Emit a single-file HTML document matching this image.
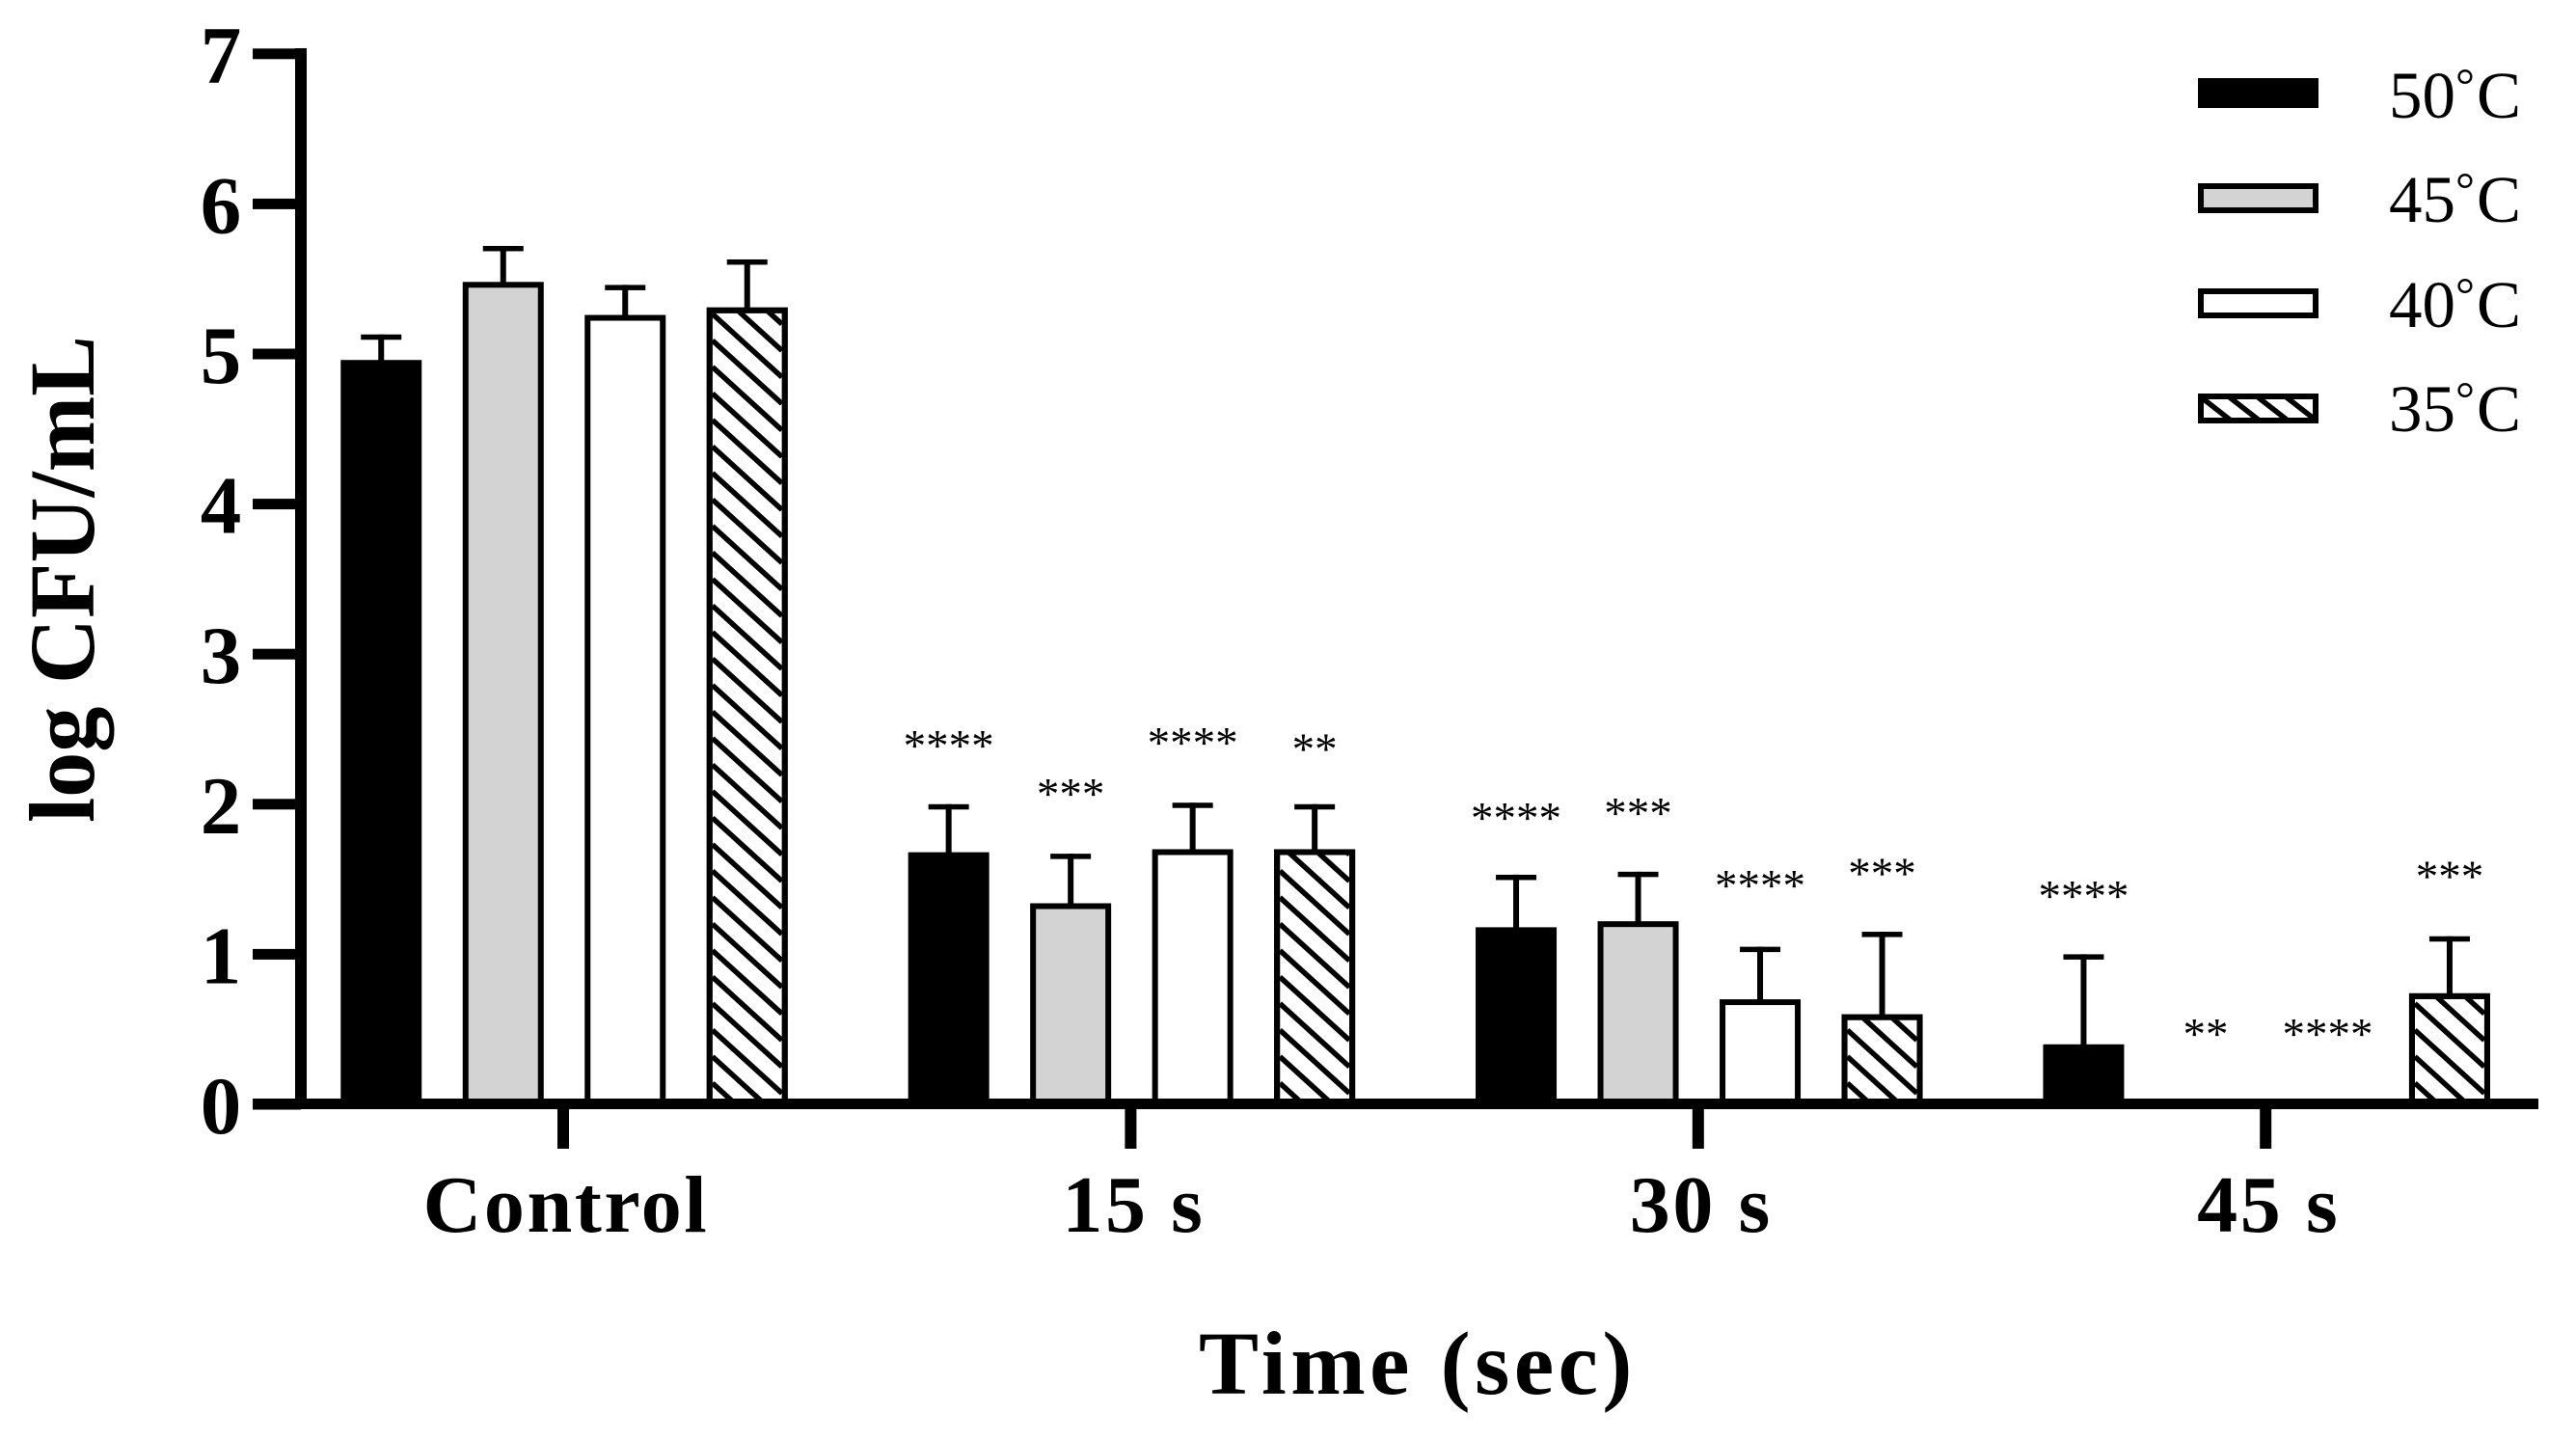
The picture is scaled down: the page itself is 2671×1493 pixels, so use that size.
<!DOCTYPE html>
<html lang="en">
<head>
<meta charset="utf-8">
<title>log CFU/mL over time by temperature</title>
<style>
html,body{margin:0;padding:0;background:#fff;width:2671px;height:1493px;overflow:hidden}
svg{display:block}
text{font-family:"Liberation Serif",serif;fill:#000}
.bold{font-weight:bold}
</style>
</head>
<body>
<svg id="chart" xmlns="http://www.w3.org/2000/svg" width="2671" height="1493" viewBox="0 0 2671 1493">
<rect x="0" y="0" width="2671" height="1493" fill="#ffffff"/>
<g id="bars"></g>
<g id="axes"></g>
<g id="legend"></g>
<g id="sigs"></g>
<text class="bold" x="1243" y="1445" font-size="93" letter-spacing="4.5">Time (sec)</text>
<text class="bold" transform="translate(97,853) rotate(-90)" x="0" y="0" font-size="96" textLength="505" lengthAdjust="spacingAndGlyphs">log CFU/mL</text>
</svg>
<script>
const categories = ['Control', '15 s', '30 s', '45 s'];
const seriesNames = ['50', '45', '40', '35'];
const yTickLabels = [0, 1, 2, 3, 4, 5, 6, 7];

const values50 = [4.96, 1.68, 1.18, 0.40];
const values45 = [5.48, 1.34, 1.22, 0];
const values40 = [5.26, 1.70, 0.70, 0];
const values35 = [5.31, 1.70, 0.60, 0.74];

const errors50 = [0.17, 0.32, 0.35, 0.60];
const errors45 = [0.24, 0.33, 0.33, 0];
const errors40 = [0.20, 0.31, 0.35, 0];
const errors35 = [0.32, 0.30, 0.55, 0.38];

const sigLabels50 = ['', '****', '****', '****'];
const sigLabels45 = ['', '***', '***', '**'];
const sigLabels40 = ['', '****', '****', '****'];
const sigLabels35 = ['', '**', '***', '***'];

const sigLevels50 = [0, 2.29, 1.81, 1.29];
const sigLevels45 = [0, 1.97, 1.84, 0.37];
const sigLevels40 = [0, 2.31, 1.36, 0.37];
const sigLevels35 = [0, 2.27, 1.44, 1.42];

const allValues = [values50, values45, values40, values35];
const allErrors = [errors50, errors45, errors40, errors35];
const allSigLabels = [sigLabels50, sigLabels45, sigLabels40, sigLabels35];
const allSigLevels = [sigLevels50, sigLevels45, sigLevels40, sigLevels35];

const NS = 'http://www.w3.org/2000/svg';
const Y0 = 1145, UNIT = 155.6;
const BAR_W = 84, STROKE = 6, HATCH_STEP = 27.5, HATCH_SLOPE = 0.91;

function yScale(v) { return Y0 - v * UNIT; }
function groupX(i) { return 585 + 588.4 * i; }
function barX(i, s) { return groupX(i) + (s - 1.5) * 126.5; }

function mk(tag, attrs, parent) {
  const el = document.createElementNS(NS, tag);
  for (const k in attrs) el.setAttribute(k, attrs[k]);
  parent.appendChild(el);
  return el;
}

const barsLayer = document.getElementById('bars');
const axesLayer = document.getElementById('axes');
const legendLayer = document.getElementById('legend');
const sigLayer = document.getElementById('sigs');
const defs = mk('defs', {}, document.getElementById('chart'));
let clipId = 0;

function hatch(parent, x, y, w, h, anchorBottom, step, slope, width) {
  const id = 'clip' + (clipId++);
  const cp = mk('clipPath', { id: id }, defs);
  mk('rect', { x: x, y: y, width: w, height: h }, cp);
  const g = mk('g', { 'clip-path': 'url(#' + id + ')' }, parent);
  
  
  for (let ly = anchorBottom; ly > y - w * slope - step; ly -= step) {
    mk('line', { x1: x, y1: ly, x2: x + w, y2: ly + w * slope, stroke: '#000', 'stroke-width': width }, g);
  }
}

function drawBar(parent, s, x, top, w, bottom, hatchAnchor, step, slope, hw) {
  if (s === 0) {
    const r = mk('rect', { x: x, y: top, width: w, height: bottom - top, fill: '#000' }, parent);
    return r;
  }
  const fill = s === 1 ? '#d3d3d3' : '#ffffff';
  const r = mk('rect', { x: x + STROKE / 2, y: top + STROKE / 2, width: w - STROKE, height: bottom - top - STROKE, fill: fill, stroke: '#000', 'stroke-width': STROKE }, parent);
  if (s === 3) {
    hatch(parent, x + STROKE, top + STROKE, w - 2 * STROKE, bottom - top - STROKE, hatchAnchor, step, slope, hw);
    mk('rect', { x: x + STROKE / 2, y: top + STROKE / 2, width: w - STROKE, height: bottom - top - STROKE, fill: 'none', stroke: '#000', 'stroke-width': STROKE }, parent);
  }
  return r;
}

allValues.forEach(function (vals, s) {
  vals.forEach(function (v, i) {
    const cx = barX(i, s);
    if (v > 0) {
      const top = yScale(v);
      const g = mk('g', {}, barsLayer);
      
      
      drawBar(g, s, cx - BAR_W / 2, top, BAR_W, 1145, 1123, HATCH_STEP, HATCH_SLOPE, 5.5);
      const capY = yScale(v + allErrors[s][i]);
      const stem = mk('line', { x1: cx, y1: capY, x2: cx, y2: top + 1, stroke: '#000', 'stroke-width': 6 }, barsLayer);
      
      
      const cap = mk('rect', { x: cx - 21, y: capY, width: 42, height: 5.5, fill: '#000' }, barsLayer);
      
      
    }
    const label = allSigLabels[s][i];
    if (label) {
      const t = mk('text', { x: cx, y: yScale(allSigLevels[s][i]), 'font-size': 47, 'text-anchor': 'middle' }, sigLayer);
      
      
      t.textContent = label;
    }
  });
});

/* axes */
const ySpine = mk('rect', { x: 306, y: 50, width: 12, height: 1100, fill: '#000' }, axesLayer);


const xSpine = mk('rect', { x: 262, y: 1139, width: 2370, height: 11, fill: '#000' }, axesLayer);



yTickLabels.forEach(function (v) {
  const yy = yScale(v);
  const tick = mk('rect', { x: 262, y: yy - 5.5, width: 50, height: 11, fill: '#000' }, axesLayer);
  
  
  const lab = mk('text', { x: 229, y: yy + 30, 'font-size': 85, 'text-anchor': 'middle', 'class': 'bold' }, axesLayer);
  
  
  lab.textContent = v;
});

categories.forEach(function (c, i) {
  const cx = groupX(i) - 1;
  const tick = mk('rect', { x: cx - 6, y: 1145, width: 12, height: 46, fill: '#000' }, axesLayer);
  
  
  const lab = mk('text', { x: cx + 3, y: 1277, 'font-size': 84, 'text-anchor': 'middle', 'letter-spacing': 2.6, 'class': 'bold' }, axesLayer);
  
  
  lab.textContent = c;
});

/* legend */
const legendTops = [81, 190, 299, 408];
const legendBaselines = [122, 230, 339, 447];
seriesNames.forEach(function (name, s) {
  const g = mk('g', {}, legendLayer);
  
  
  const top = legendTops[s];
  drawBar(g, s, 2279, top, 125, top + 31, top + 6, 23, 0.78, 5.5);
  const t = mk('text', { x: 2477, y: legendBaselines[s], 'font-size': 69 }, g);
  
  
  const digits = mk('tspan', {}, t);
  digits.textContent = name;
  const ring = mk('tspan', { 'font-size': 50, dy: -17 }, t);
  ring.textContent = '\u00B0';
  const unit = mk('tspan', { dy: 17, dx: 2 }, t);
  unit.textContent = 'C';
});
</script>
</body>
</html>
